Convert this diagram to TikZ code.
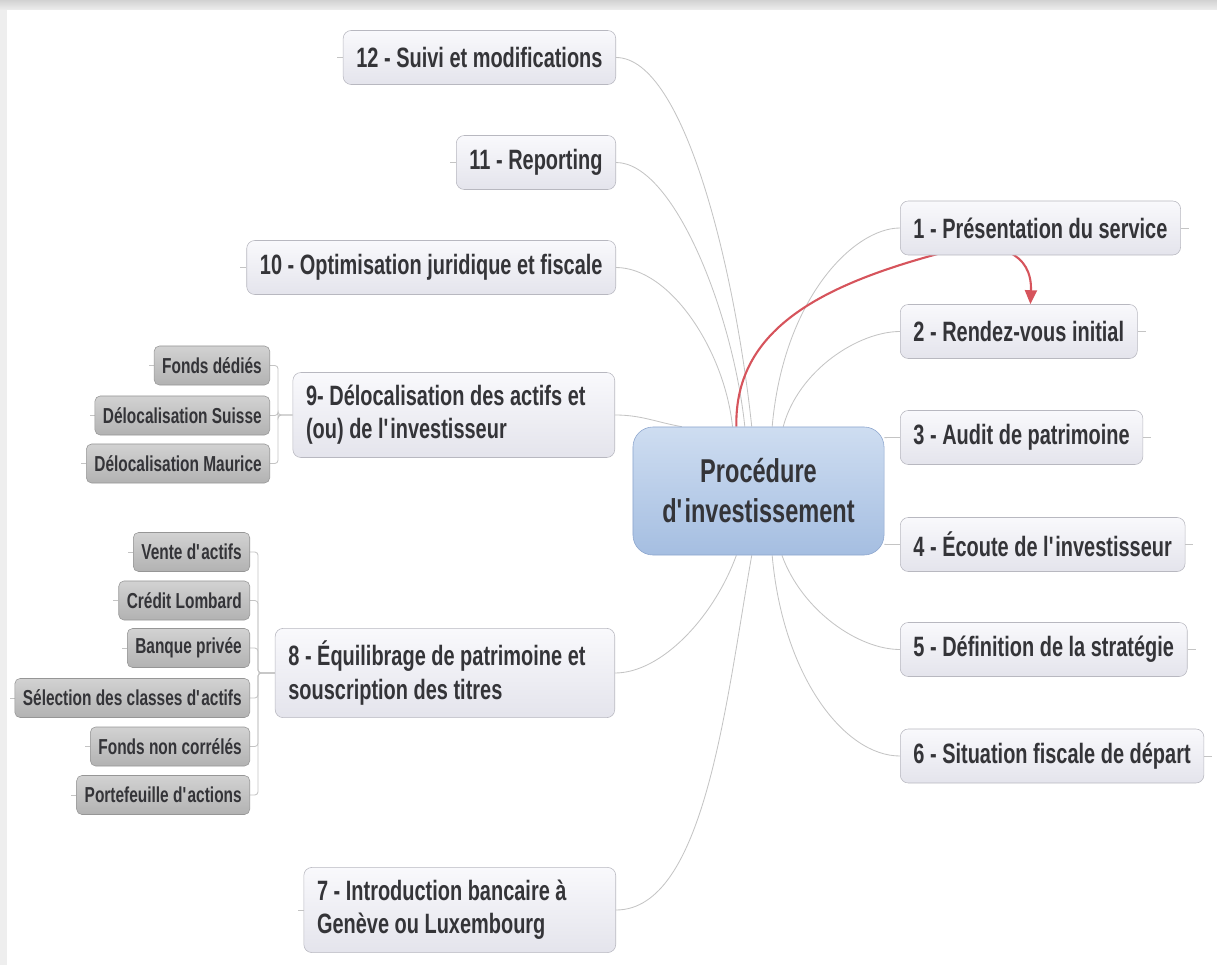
\documentclass[tikz,border=0pt]{standalone}
\usepackage{fontspec}
\setmainfont{Liberation Sans}[FakeStretch=0.713]
\usepackage{xcolor}
\usetikzlibrary{arrows.meta, backgrounds}
\definecolor{topictop}{RGB}{249,249,252}
\definecolor{topicbot}{RGB}{228,228,236}
\definecolor{topicedge}{RGB}{184,184,192}
\definecolor{leaftop}{RGB}{210,210,210}
\definecolor{leafbot}{RGB}{178,178,178}
\definecolor{leafedge}{RGB}{150,150,150}
\definecolor{hubtop}{RGB}{206,221,241}
\definecolor{hubbot}{RGB}{165,190,225}
\definecolor{hubedge}{RGB}{140,165,205}
\definecolor{inkgrey}{RGB}{52,52,56}
\definecolor{linegrey}{RGB}{196,196,196}
\definecolor{relred}{RGB}{214,84,92}
\definecolor{framegrey}{RGB}{238,238,238}
\newcommand{\topicsize}{\fontsize{19.9pt}{23.5pt}\selectfont\bfseries}
\newcommand{\leafsize}{\fontsize{15.4pt}{18pt}\selectfont\bfseries}
\newcommand{\hubsize}{\fontsize{23.5pt}{28.5pt}\selectfont\bfseries}
\newcommand{\ap}{\textquotesingle}

\begin{document}
\begin{tikzpicture}[
  x=0.025cm, y=-0.025cm,
  hub/.style      = {rectangle, rounded corners=0.5cm, draw=hubedge, top color=hubtop, bottom color=hubbot, text=inkgrey, font=\hubsize, align=center, minimum width=6.275cm, minimum height=3.2cm},
  topic/.style    = {rectangle, rounded corners=0.2cm, draw=topicedge, top color=topictop, bottom color=topicbot, text=inkgrey, font=\topicsize, align=left, inner xsep=0.33cm, inner ysep=0.32cm, minimum height=1.35cm},
  leaf/.style     = {rectangle, rounded corners=0.13cm, draw=leafedge, top color=leaftop, bottom color=leafbot, text=inkgrey, font=\leafsize, inner xsep=0.2cm, minimum height=0.975cm},
  branch/.style   = {draw=linegrey, line width=0.6pt},
  twig/.style     = {draw=linegrey, line width=0.6pt, rounded corners=0.08cm},
  stub/.style     = {draw=linegrey, line width=0.6pt},
  relation/.style = {-{Triangle[length=0.35cm, width=0.3cm]}, draw=relred, line width=1.5pt},
]
\useasboundingbox (0,0) rectangle (1217,965);
% Central topic
\node[hub] (proc) at (758.5,491) {Procédure\\d\ap investissement};
% Right branch
\node[topic, anchor=west] (n1) at (900,228) {1 - Présentation du service};
\node[topic, anchor=west] (n2) at (900,331.5) {2 - Rendez-vous initial};
\node[topic, anchor=west] (n3) at (900,437.5) {3 - Audit de patrimoine};
\node[topic, anchor=west] (n4) at (900,544.5) {4 - Écoute de l\ap investisseur};
\node[topic, anchor=west] (n5) at (900,649.5) {5 - Définition de la stratégie};
\node[topic, anchor=west] (n6) at (900,756) {6 - Situation fiscale de départ};
% Left branch
\node[topic, anchor=east] (n7) at (616,910) {7 - Introduction bancaire à\hspace*{0.9cm}\\Genève ou Luxembourg};
\node[topic, anchor=east] (n8) at (615,673) {8 - Équilibrage de patrimoine et\hspace*{0.4cm}\\souscription des titres};
\node[topic, anchor=east] (n9) at (615,415) {9- Délocalisation des actifs et\hspace*{0.4cm}\\(ou) de l\ap investisseur};
\node[topic, anchor=east] (n10) at (616,267.5) {10 - Optimisation juridique et fiscale};
\node[topic, anchor=east] (n11) at (616,162.5) {11 - Reporting};
\node[topic, anchor=east] (n12) at (616,57.5) {12 - Suivi et modifications};
% Subtopics of 9
\node[leaf, anchor=east] (fdedies) at (270,365.5) {Fonds dédiés};
\node[leaf, anchor=east] (dsuisse) at (270,415.5) {Délocalisation Suisse};
\node[leaf, anchor=east] (dmaurice) at (270,463.5) {Délocalisation Maurice};
% Subtopics of 8
\node[leaf, anchor=east] (vente) at (250,552) {Vente d\ap actifs};
\node[leaf, anchor=east] (lombard) at (250,600.5) {Crédit Lombard};
\node[leaf, anchor=east] (banque) at (250,648) {Banque privée};
\node[leaf, anchor=east] (classes) at (250,698) {Sélection des classes d\ap actifs};
\node[leaf, anchor=east] (noncorr) at (250,746.5) {Fonds non corrélés};
\node[leaf, anchor=east] (actions) at (250,795) {Portefeuille d\ap actions};
\coordinate (relbend) at (945,252);
\begin{scope}[on background layer]
% Page frame
\fill[top color=gray!35, bottom color=framegrey] (0,0) rectangle (1217,10);
\fill[framegrey] (0,10) rectangle (7,965);
% Branches from the central topic
\draw[branch] (proc.96) to[out=96, in=0, in looseness=0.45] (n12.east);
\draw[branch] (proc.102) to[out=96, in=0, in looseness=0.5] (n11.east);
\draw[branch] (proc.112) to[out=96, in=0, in looseness=0.7] (n10.east);
\draw[branch] (proc.140) to[out=170, in=0] (n9.east);
\draw[branch] (proc.251) to[out=-110, in=0, in looseness=0.7] (n8.east);
\draw[branch] (proc.264) to[out=-100, in=0, in looseness=0.6] (n7.east);
\draw[branch] (proc.78) to[out=85, in=180, out looseness=1.4, in looseness=0.5] (n1.west);
\draw[branch] (proc.69) to[out=75, in=180, in looseness=0.7] (n2.west);
\draw[branch] (proc.23) -- (n3.west);
\draw[branch] (proc.337) -- (n4.west);
\draw[branch] (proc.290) to[out=-70, in=180, in looseness=0.7] (n5.west);
\draw[branch] (proc.282) to[out=-85, in=180, out looseness=1.3, in looseness=0.6] (n6.west);
% Brackets to subtopics
\draw[twig] (fdedies.east) -- ++(8,0) |- (n9.west);
\draw[twig] (dsuisse.east) -- ++(8,0) |- (n9.west);
\draw[twig] (dmaurice.east) -- ++(8,0) |- (n9.west);
\draw[twig] (vente.east) -- ++(8,0) |- (n8.west);
\draw[twig] (lombard.east) -- ++(8,0) |- (n8.west);
\draw[twig] (banque.east) -- ++(8,0) |- (n8.west);
\draw[twig] (classes.east) -- ++(8,0) |- (n8.west);
\draw[twig] (noncorr.east) -- ++(8,0) |- (n8.west);
\draw[twig] (actions.east) -- ++(8,0) |- (n8.west);
% Short end stubs
\draw[stub] (n1.east) -- ++(8,0) (n2.east) -- ++(8,0) (n3.east) -- ++(8,0)
            (n4.east) -- ++(8,0) (n5.east) -- ++(8,0) (n6.east) -- ++(8,0);
\draw[stub] (n12.west) -- ++(-6,0) (n11.west) -- ++(-6,0) (n10.west) -- ++(-6,0) (n7.west) -- ++(-6,0);
\draw[stub] (fdedies.west) -- ++(-5,0) (dsuisse.west) -- ++(-5,0) (dmaurice.west) -- ++(-5,0)
            (vente.west) -- ++(-5,0) (lombard.west) -- ++(-5,0) (banque.west) -- ++(-5,0)
            (classes.west) -- ++(-5,0) (noncorr.west) -- ++(-5,0) (actions.west) -- ++(-5,0);
% Relationship arrow
\draw[relation] (proc.109) .. controls +(-2,-97) and +(-125,33) .. (relbend)
                .. controls +(55,-14) and +(2,-50) .. (n2.67);
\end{scope}
\end{tikzpicture}
\end{document}
